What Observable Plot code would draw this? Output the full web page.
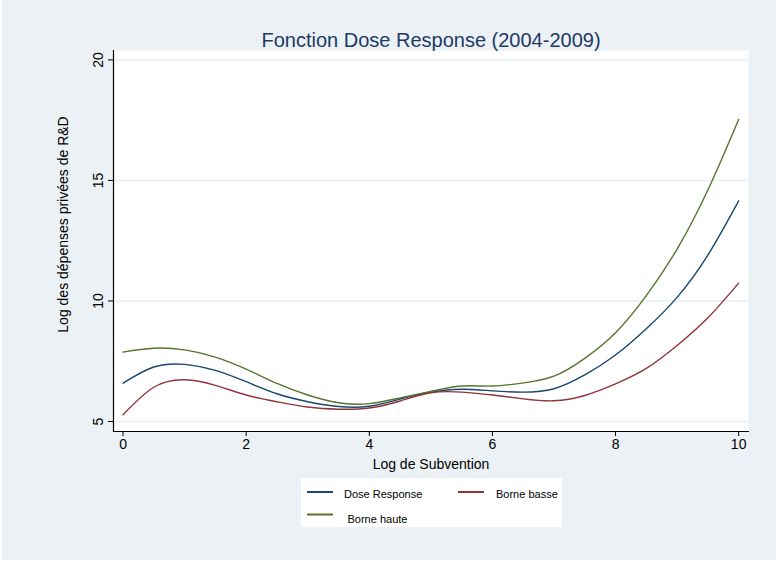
<!DOCTYPE html>
<html><head><meta charset="utf-8">
<script src="https://cdn.jsdelivr.net/npm/d3@7"></script>
<script src="https://cdn.jsdelivr.net/npm/@observablehq/plot@0.6"></script>
<style>
body{margin:0;background:#fff;}
#wrap{position:relative;width:776px;height:562px;overflow:hidden;font-family:"Liberation Sans",Arial,Helvetica,sans-serif;}
#bg{position:absolute;left:2px;top:0;width:774px;height:560px;background:#ebf1f4;}
#plot{position:absolute;left:0;top:0;}
#overlay{position:absolute;left:0;top:0;}
</style></head><body>
<div id="wrap"><div id="bg"></div><div id="plot"></div><svg id="overlay" width="776" height="562"></svg></div>
<script>
const titleText = "Fonction Dose Response (2004-2009)";
const xTitle = "Log de Subvention";
const yTitle = "Log des dépenses privées de R&D";
const xTicks = [0, 2, 4, 6, 8, 10];
const yTicks = [5, 10, 15, 20];
const seriesNames = ["Dose Response", "Borne basse", "Borne haute"];
const seriesColors = ["#1a476f", "#90353b", "#55752f"];
const xValues = [0,0.5,1,1.5,2,2.5,3,3.5,4,4.5,5,5.5,6,6.5,7,7.5,8,8.5,9,9.5,10];
const doseResponse = [6.59,7.26,7.37,7.12,6.65,6.15,5.82,5.62,5.63,5.93,6.22,6.34,6.27,6.22,6.36,6.93,7.76,8.85,10.15,11.9,14.15];
const borneBasse = [5.28,6.42,6.73,6.5,6.1,5.82,5.6,5.51,5.56,5.85,6.19,6.22,6.1,5.94,5.86,6.08,6.56,7.2,8.15,9.3,10.74];
const borneHaute = [7.88,8.04,7.97,7.67,7.17,6.58,6.1,5.78,5.74,5.98,6.25,6.47,6.47,6.6,6.88,7.62,8.68,10.22,12.15,14.6,17.53];

const seriesValues = [doseResponse, borneBasse, borneHaute];
const rows = [];
seriesNames.forEach((name, i) => {
  xValues.forEach((x, j) => rows.push({series: name, x, y: seriesValues[i][j]}));
});

const font = "Liberation Sans, Arial, Helvetica, sans-serif";
const chart = Plot.plot({
  width: 776, height: 562,
  marginLeft: 113, marginRight: 28, marginTop: 50, marginBottom: 131,
  style: {background: "transparent", fontFamily: font, fontSize: "14px", color: "black"},
  x: {domain: [-0.155, 10.16]},
  y: {domain: [4.585, 20.39]},
  color: {domain: seriesNames, range: seriesColors},
  marks: [
    Plot.frame({fill: "white", stroke: "none"}),
    Plot.ruleY(yTicks, {stroke: "#e8eff3", strokeWidth: 1.6}),
    Plot.line(rows, {x: "x", y: "y", z: "series", stroke: "series", strokeWidth: 1.4, curve: "natural"}),
    Plot.frame({anchor: "left", stroke: "black", strokeWidth: 1.2}),
    Plot.frame({anchor: "bottom", stroke: "black", strokeWidth: 1.2}),
    Plot.axisX({ticks: xTicks, tickSize: 5, tickPadding: 3, label: null, fontSize: 14}),
    Plot.axisY({ticks: yTicks, tickSize: 5, tickRotate: -90, tickPadding: 6, label: null, fontSize: 14}),
    Plot.text([yTitle], {text: d => d, frameAnchor: "left", textAnchor: "middle", rotate: -90, dx: -50, dy: -16.5, fontSize: 14}),
    Plot.text([xTitle], {text: d => d, frameAnchor: "bottom", textAnchor: "middle", lineAnchor: "top", dy: 28, fontSize: 14})
  ]
});
document.getElementById("plot").appendChild(chart);

// Title and legend overlay
const ov = d3.select("#overlay");
ov.append("text").attr("x", 431).attr("y", 46.7).attr("text-anchor", "middle")
  .attr("font-family", font).attr("font-size", 20).attr("fill", "#1e3a66").text(titleText);

const lg = ov.append("g");
lg.append("rect").attr("x", 301).attr("y", 478).attr("width", 261).attr("height", 49).attr("fill", "white");
const legendPos = [
  {lx: 307, ly: 492, tx: 344, ty: 498},
  {lx: 458, ly: 492, tx: 496, ty: 498},
  {lx: 307, ly: 514.5, tx: 347.5, ty: 523}
];
seriesNames.forEach((name, i) => {
  const p = legendPos[i];
  lg.append("line").attr("x1", p.lx).attr("x2", p.lx + 26).attr("y1", p.ly).attr("y2", p.ly)
    .attr("stroke", seriesColors[i]).attr("stroke-width", 2);
  lg.append("text").attr("x", p.tx).attr("y", p.ty).attr("font-family", font).attr("font-size", 11)
    .attr("fill", "black").text(name);
});
</script>
</body></html>
